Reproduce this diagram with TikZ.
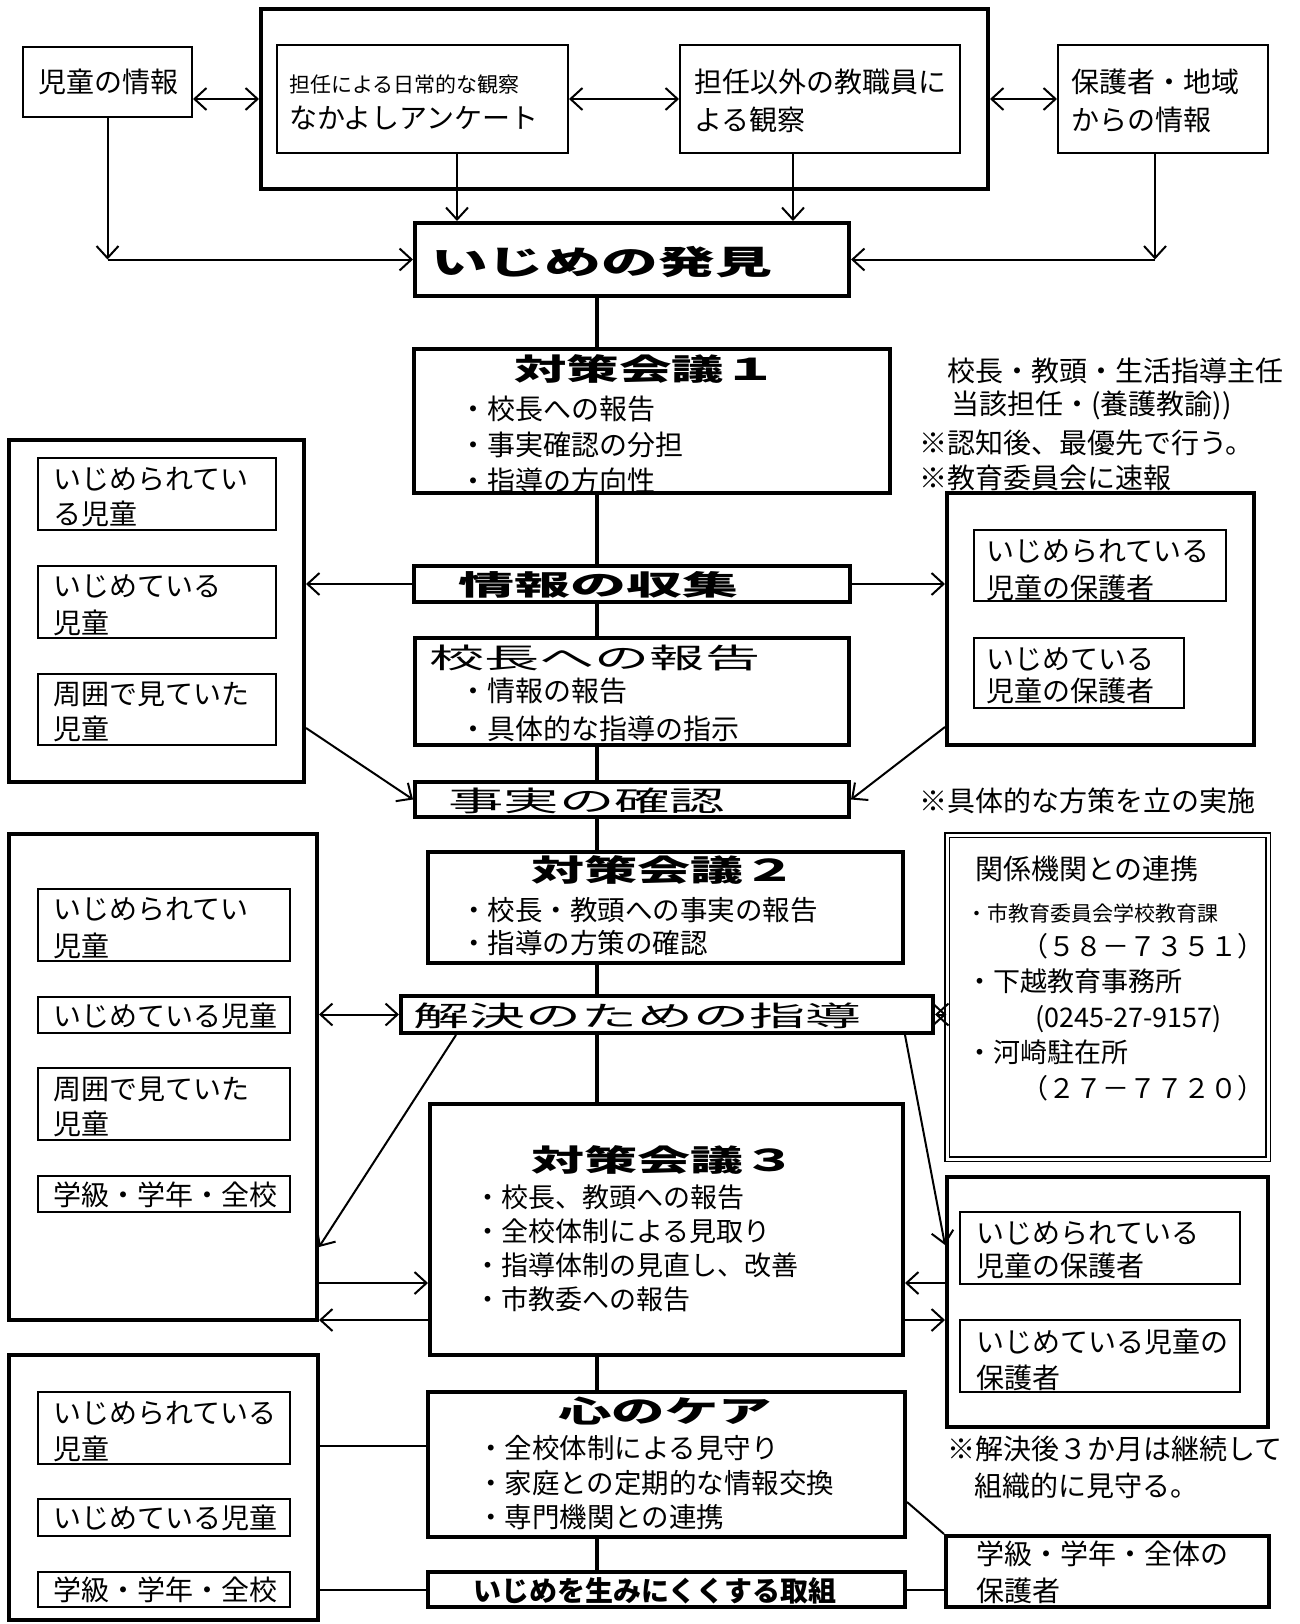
\documentclass[tikz,border=0pt]{standalone}
\usepackage{fontspec}
\setmainfont{Noto Sans CJK JP}
\usepackage{graphicx}
\usetikzlibrary{arrows.meta}
\newcommand\fsz[1]{\fontsize{#1}{#1}\selectfont}
\newcommand\mlines[2]{\vtop{\baselineskip=#1pt\lineskiplimit=-1000pt\relax\halign{##\hfil\cr#2\crcr}}}
\newcommand\stretchx[2]{\scalebox{#1}[1]{#2}}
\newcommand\mybox[6]{\node[#1, minimum width=#5pt-#3pt, minimum height=#6pt-#4pt] (#2) at ({(#3+#5)/2},{(#4+#6)/2}) {};}
\begin{document}
\begin{tikzpicture}[x=1pt,y=-1pt,
  thinbox/.style={draw, line width=2pt, inner sep=0pt},
  thickbox/.style={draw, line width=4pt, inner sep=0pt},
  dblbox/.style={draw, double, double distance=3pt, line width=1.5pt, inner sep=0pt},
  conn/.style={line width=2pt},
  trunk/.style={line width=4pt},
  tx/.style={inner sep=0pt, anchor=base west, font=\fsz{28}},
  >={Straight Barb[length=12pt,width=22pt]}]
\fill[white] (0,0) rectangle (1299,1624);
\useasboundingbox (0,0) rectangle (1299,1624);

% boxes
\mybox{thinbox}{info}{23}{47}{192}{117}
\mybox{thickbox}{top}{261}{9}{988}{189}
\mybox{thinbox}{tannin}{277}{45}{568}{153}
\mybox{thinbox}{igai}{680}{45}{960}{153}
\mybox{thinbox}{hogo}{1058}{45}{1268}{153}
\mybox{thickbox}{hakken}{415}{223}{849}{296}
\mybox{thickbox}{kaigi1}{414}{349}{890}{493}
\mybox{thickbox}{L1}{9}{440}{304}{782}
\mybox{thinbox}{L1a}{38}{458}{276}{530}
\mybox{thinbox}{L1b}{38}{566}{276}{638}
\mybox{thinbox}{L1c}{38}{674}{276}{745}
\mybox{thickbox}{shushu}{414}{566}{850}{602}
\mybox{thickbox}{houkoku}{415}{638}{849}{745}
\mybox{thickbox}{kakunin}{415}{782}{849}{817}
\mybox{thickbox}{R1}{947}{493}{1254}{745}
\mybox{thinbox}{R1a}{974}{530}{1226}{601}
\mybox{thinbox}{R1b}{974}{638}{1184}{708}
\mybox{thickbox}{L2}{9}{834}{317}{1320}
\mybox{thinbox}{L2a}{38}{889}{290}{961}
\mybox{thinbox}{L2b}{38}{997}{290}{1033}
\mybox{thinbox}{L2c}{38}{1068}{290}{1140}
\mybox{thinbox}{L2d}{38}{1176}{290}{1212}
\mybox{thickbox}{kaigi2}{428}{852}{903}{963}
\mybox{thickbox}{kaiketsu}{401}{996}{933}{1033}
\mybox{dblbox}{kankei}{947}{835}{1268}{1159}
\mybox{thickbox}{kaigi3}{430}{1104}{903}{1355}
\mybox{thickbox}{R2}{947}{1177}{1268}{1427}
\mybox{thinbox}{R2a}{960}{1212}{1240}{1284}
\mybox{thinbox}{R2b}{960}{1320}{1240}{1392}
\mybox{thickbox}{L3}{9}{1355}{318}{1620}
\mybox{thinbox}{L3a}{38}{1392}{290}{1464}
\mybox{thinbox}{L3b}{38}{1499}{290}{1536}
\mybox{thinbox}{L3c}{38}{1572}{290}{1607}
\mybox{thickbox}{kokoro}{428}{1392}{905}{1537}
\mybox{thickbox}{torikumi}{428}{1572}{905}{1607}
\mybox{thickbox}{R3}{946}{1536}{1269}{1607}

% helper coordinates
\coordinate (cL) at (107.5,259.5);
\coordinate (cR) at (1155,259.5);
\coordinate (eX) at (457,0);
\coordinate (fX) at (793,0);
\coordinate (tX) at (597,0);
\coordinate (kY) at (0,728);
\coordinate (lY) at (0,727);
\coordinate (oX) at (456,0);
\coordinate (oY) at (0,1247);
\coordinate (pX) at (905,0);
\coordinate (pY) at (0,1245);
\coordinate (qY) at (0,1283);
\coordinate (rY) at (0,1320);
\coordinate (uY) at (0,1446);
\coordinate (wY) at (0,1502);

% connectors
\draw[conn,<->] (info.east |- top.west) -- (top.west);
\draw[conn,<->] (tannin.east) -- (igai.west);
\draw[conn,<->] (top.east) -- (hogo.west);
\draw[conn,->] (info.south) -- (cL);
\draw[conn,->] (cL) -- (hakken.west);
\draw[conn,->] (tannin.south -| eX) -- (hakken.north -| eX);
\draw[conn,->] (igai.south -| fX) -- (hakken.north -| fX);
\draw[conn,->] (hogo.south -| cR) -- (cR);
\draw[conn,->] (cR) -- (hakken.east);

\foreach \a/\b in {hakken/kaigi1, kaigi1/shushu, shushu/houkoku, houkoku/kakunin, kakunin/kaigi2, kaigi2/kaiketsu, kaiketsu/kaigi3, kaigi3/kokoro, kokoro/torikumi}
  \draw[trunk] (\a.south -| tX) -- (\b.north -| tX);

\draw[conn,->] (shushu.west) -- (L1.east |- shushu.west);
\draw[conn,->] (shushu.east) -- (R1.west |- shushu.east);
\draw[conn,->] (L1.east |- kY) -- (kakunin.west);
\draw[conn,->] (R1.west |- lY) -- (kakunin.east);
\draw[conn,<->] (kaiketsu.west) -- (L2.east |- kaiketsu.west);
\draw[conn,<->] (kaiketsu.east) -- (kankei.west |- kaiketsu.east);
\draw[conn,->] (kaiketsu.south -| oX) -- (L2.east |- oY);
\draw[conn,->] (kaiketsu.south -| pX) -- (R2.west |- pY);
\draw[conn,->] (L2.east |- qY) -- (kaigi3.west |- qY);
\draw[conn,->] (kaigi3.west |- rY) -- (L2.east |- rY);
\draw[conn,->] (R2.west |- qY) -- (kaigi3.east |- qY);
\draw[conn,->] (kaigi3.east |- rY) -- (R2.west |- rY);
\draw[conn] (L3.east |- uY) -- (kokoro.west |- uY);
\draw[conn] (L3.east |- torikumi.west) -- (torikumi.west);
\draw[conn] (kokoro.east |- wY) -- (R3.north west);
\draw[conn] (torikumi.east) -- (R3.west |- torikumi.east);

% texts
\node[tx] (tInfo) at (38,93) {児童の情報};
\node[tx] (tTannin) at (289,93) {\mlines{36}{\fsz{21}担任による日常的な観察\cr\fsz{28}なかよしアンケート}};
\node[tx] (tIgai) at (694,93) {\mlines{38}{担任以外の教職員に\cr よる観察}};
\node[tx] (tHogo) at (1071,93) {\mlines{38}{保護者・地域\cr からの情報}};
\node[tx] (tHakken) at (431,274) {\stretchx{1.72}{\bfseries\fsz{33}いじめの発見}};

\node[tx] (tK1) at (514,380) {\stretchx{1.75}{\bfseries\fsz{30}対策会議１}};
\node[tx] (bK1) at (459,419) {\mlines{36}{・校長への報告\cr・事実確認の分担\cr・指導の方向性}};
\node[tx] (tT1) at (947,381) {\mlines{33}{校長・教頭・生活指導主任\cr\hskip4pt 当該担任・(養護教諭))}};
\node[tx] (tT3) at (919,453) {\mlines{35}{※認知後、最優先で行う。\cr※教育委員会に速報}};

\node[tx] (tL1a) at (53,489) {\mlines{35}{いじめられてい\cr る児童}};
\node[tx] (tL1b) at (53,596) {\mlines{37}{いじめている\cr 児童}};
\node[tx] (tL1c) at (53,704) {\mlines{35}{周囲で見ていた\cr 児童}};
\node[tx] (tShu) at (458,595) {\stretchx{2}{\bfseries\fsz{28}情報の収集}};
\node[tx] (tHou) at (429,668) {\stretchx{1.97}{\fsz{28}校長への報告}};
\node[tx] (bHou) at (459,701) {\mlines{38}{・情報の報告\cr・具体的な指導の指示}};
\node[tx] (tKak) at (448,811) {\stretchx{1.98}{\fsz{28}事実の確認}};
\node[tx] (tR1a) at (986,561) {\mlines{37}{いじめられている\cr 児童の保護者}};
\node[tx] (tR1b) at (986,669) {\mlines{32}{いじめている\cr 児童の保護者}};
\node[tx] (tT5) at (919,811) {※具体的な方策を立の実施};

\node[tx] (tL2a) at (53,919) {\mlines{37}{いじめられてい\cr 児童}};
\node[tx] (tL2b) at (53,1026) {いじめている児童};
\node[tx] (tL2c) at (53,1099) {\mlines{35}{周囲で見ていた\cr 児童}};
\node[tx] (tL2d) at (53,1205) {学級・学年・全校};
\node[tx] (tK2) at (531,881) {\stretchx{1.77}{\bfseries\fsz{30}対策会議２}};
\node[tx] (bK2) at (460,920.5) {\fsz{27.5}\mlines{33}{・校長・教頭への事実の報告\cr・指導の方策の確認}};
\node[tx] (tKai) at (413,1026) {\stretchx{2}{\fsz{28}解決のための指導}};
\node[tx] (tKan) at (975,879) {関係機関との連携};
\node[tx] (bKan) at (966,921) {\mlines{35.4}{{\fsz{21}・市教育委員会学校教育課}\cr\hskip55pt\fsz{27}（５８－７３５１）\cr\fsz{27}・下越教育事務所\cr\hskip69pt\fsz{27}(0245-27-9157)\cr\fsz{27}・河崎駐在所\cr\hskip55pt\fsz{27}（２７－７７２０）}};

\node[tx] (tK3) at (531,1171) {\stretchx{1.77}{\bfseries\fsz{30}対策会議３}};
\node[tx] (bK3) at (474,1207) {\fsz{27}\mlines{34.3}{・校長、教頭への報告\cr・全校体制による見取り\cr・指導体制の見直し、改善\cr・市教委への報告}};
\node[tx] (tR2a) at (976,1243) {\mlines{33}{いじめられている\cr 児童の保護者}};
\node[tx] (tR2b) at (976,1352) {\mlines{36}{いじめている児童の\cr 保護者}};

\node[tx] (tL3a) at (53,1423) {\mlines{36}{いじめられている\cr 児童}};
\node[tx] (tL3b) at (53,1528) {いじめている児童};
\node[tx] (tL3c) at (53,1600) {学級・学年・全校};
\node[tx] (tKo) at (558,1422) {\stretchx{1.78}{\bfseries\fsz{30}心のケア}};
\node[tx] (bKo) at (477,1458.5) {\fsz{27.5}\mlines{34.5}{・全校体制による見守り\cr・家庭との定期的な情報交換\cr・専門機関との連携}};
\node[tx] (tTori) at (473,1601) {\bfseries\fsz{28}いじめを生みにくくする取組};
\node[tx] (tR3) at (976,1564) {\mlines{37}{学級・学年・全体の\cr 保護者}};
\node[tx] (tT6) at (947,1459) {\mlines{37}{※解決後３か月は継続して\cr\hskip27pt 組織的に見守る。}};
\end{tikzpicture}
\end{document}
